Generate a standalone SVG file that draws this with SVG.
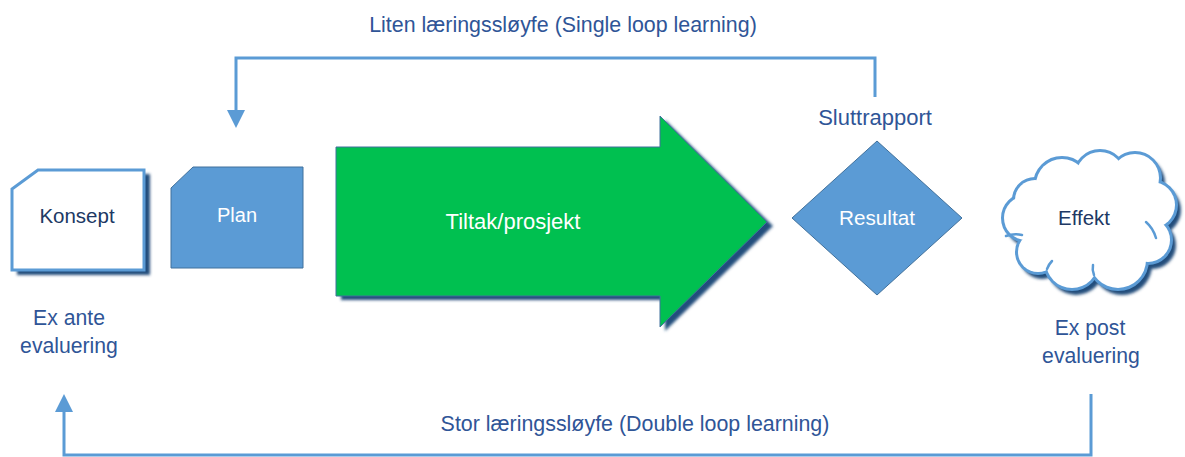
<svg xmlns="http://www.w3.org/2000/svg" width="1185" height="457" viewBox="0 0 1185 457">
  <defs>
    <filter id="soft" x="-10%" y="-10%" width="130%" height="130%">
      <feGaussianBlur stdDeviation="1.4"/>
    </filter>
    <marker id="head" markerWidth="6" markerHeight="6" refX="4" refY="3" orient="auto" markerUnits="strokeWidth">
      <path d="M0,0 L6,3 L0,6 Z" fill="#5b9bd5"/>
    </marker>
    <style>
      .lbl { font-family: "Liberation Sans", Arial, sans-serif; fill: #2f5597; text-anchor: middle; }
      .dark { font-family: "Liberation Sans", Arial, sans-serif; fill: #203864; text-anchor: middle; }
      .white { font-family: "Liberation Sans", Arial, sans-serif; fill: #ffffff; text-anchor: middle; }
      .loop { fill: none; stroke: #5b9bd5; stroke-width: 3; }
      .shadow { fill: #244d7c; filter: url(#soft); }
      .blue { fill: #5b9bd5; stroke: #41719c; stroke-width: 1; }
      .cloudline { fill: none; stroke: #5b9bd5; stroke-width: 6; }
      .cloudfill { fill: #ffffff; }
      .fold { fill: none; stroke: #5b9bd5; stroke-width: 2.5; stroke-linecap: round; }
    </style>
  </defs>

  <rect width="1185" height="457" fill="#ffffff"/>

  <!-- feedback loops -->
  <g id="connectors">
    <path class="loop" d="M875,97 V58 H236 V122" marker-end="url(#head)"/>
    <path class="loop" d="M1091,394 V455 H64 V400" marker-end="url(#head)"/>
    <text class="lbl" x="563" y="32" font-size="21.4">Liten læringssløyfe (Single loop learning)</text>
    <text class="lbl" x="635" y="431" font-size="21.4">Stor læringssløyfe (Double loop learning)</text>
  </g>

  <!-- Konsept -->
  <g id="konsept">
    <path class="shadow" d="M43,174 H150 V275 H17 V193 Z"/>
    <path d="M38,170 H144 V270 H12 V189 Z" fill="#ffffff" stroke="#5b9bd5" stroke-width="3"/>
    <text class="dark" x="77" y="223" font-size="20.5">Konsept</text>
    <text class="lbl" x="69" y="325" font-size="21.2">Ex ante</text>
    <text class="lbl" x="69" y="353" font-size="21.2">evaluering</text>
  </g>

  <!-- Plan -->
  <g id="plan">
    <path class="blue" d="M193,167 H303 V268 H171 V188 Z"/>
    <text class="white" x="237" y="222" font-size="20">Plan</text>
  </g>

  <!-- Tiltak/prosjekt -->
  <g id="tiltak">
    <path class="shadow" d="M341,151 H665 V120 L773,226 L665,331 V300 H341 Z"/>
    <path d="M336,147 H660 V116 L767,222 L660,327 V296 H336 Z" fill="#00c050" stroke="#41719c" stroke-width="1"/>
    <text class="white" x="513" y="229" font-size="22">Tiltak/prosjekt</text>
  </g>

  <!-- Resultat -->
  <g id="resultat">
    <text class="lbl" x="875" y="125" font-size="22">Sluttrapport</text>
    <path class="blue" d="M877,141 L962,218 L877,295 L792,218 Z"/>
    <text class="white" x="877" y="225" font-size="20.7">Resultat</text>
  </g>

  <!-- Effekt cloud: union of circles, outline drawn first and covered by the fill -->
  <g id="effekt">
    <g class="shadow" transform="translate(4,5)">
      <circle cx="1026" cy="218" r="24"/>
      <circle cx="1038" cy="252" r="22"/>
      <circle cx="1072" cy="262" r="28"/>
      <circle cx="1118" cy="260" r="30"/>
      <circle cx="1148" cy="240" r="24"/>
      <circle cx="1152" cy="205" r="25"/>
      <circle cx="1135" cy="178" r="26"/>
      <circle cx="1100" cy="176" r="26"/>
      <circle cx="1062" cy="185" r="28"/>
      <circle cx="1035" cy="200" r="22"/>
    </g>
    <g class="cloudline">
      <circle cx="1026" cy="218" r="22"/>
      <circle cx="1038" cy="252" r="20"/>
      <circle cx="1072" cy="262" r="26"/>
      <circle cx="1118" cy="260" r="28"/>
      <circle cx="1148" cy="240" r="22"/>
      <circle cx="1152" cy="205" r="23"/>
      <circle cx="1135" cy="178" r="24"/>
      <circle cx="1100" cy="176" r="24"/>
      <circle cx="1062" cy="185" r="26"/>
      <circle cx="1035" cy="200" r="20"/>
    </g>
    <g class="cloudfill">
      <circle cx="1026" cy="218" r="22"/>
      <circle cx="1038" cy="252" r="20"/>
      <circle cx="1072" cy="262" r="26"/>
      <circle cx="1118" cy="260" r="28"/>
      <circle cx="1148" cy="240" r="22"/>
      <circle cx="1152" cy="205" r="23"/>
      <circle cx="1135" cy="178" r="24"/>
      <circle cx="1100" cy="176" r="24"/>
      <circle cx="1062" cy="185" r="26"/>
      <circle cx="1035" cy="200" r="20"/>
      <ellipse cx="1090" cy="222" rx="62" ry="46"/>
    </g>
    <!-- inner fold arcs at the cusps -->
    <path class="fold" d="M1006,236 Q1014,233 1022,235"/>
    <path class="fold" d="M1146,222 Q1153,228 1156,238"/>
    <path class="fold" d="M1094,275 Q1092,270 1093,265"/>
    <path class="fold" d="M1047,269 Q1049,264 1052,261"/>
    <text class="dark" x="1084" y="225" font-size="20.4">Effekt</text>
    <text class="lbl" x="1090" y="335" font-size="21.2">Ex post</text>
    <text class="lbl" x="1091" y="363" font-size="21.2">evaluering</text>
  </g>
</svg>
